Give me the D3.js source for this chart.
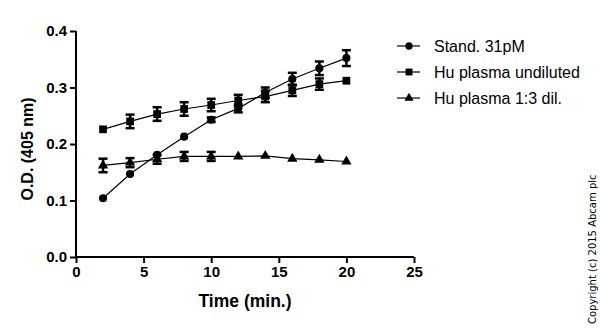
<!DOCTYPE html>
<html><head><meta charset="utf-8">
<script src="https://cdn.jsdelivr.net/npm/d3@7"></script>
<style>body{margin:0;background:#fff}svg{display:block}</style>
</head><body>
<svg id="c" width="600" height="328"></svg>
<script>
const times = [2,4,6,8,10,12,14,16,18,20];
const standValues = [0.104,0.147,0.181,0.213,0.243,0.263,0.291,0.315,0.334,0.352];
const standErrors = [0,0,0,0,0.004,0.007,0.009,0.011,0.012,0.014];
const huUndilValues = [0.226,0.240,0.253,0.262,0.269,0.277,0.284,0.295,0.306,0.312];
const huUndilErrors = [0,0.012,0.012,0.012,0.011,0.010,0.010,0.010,0.010,0];
const huDilValues = [0.162,0.167,0.173,0.178,0.178,0.178,0.179,0.174,0.172,0.169];
const huDilErrors = [0.012,0.008,0.008,0.008,0.008,0,0,0,0,0];
const seriesNames = ["Stand. 31pM","Hu plasma undiluted","Hu plasma 1:3 dil."];
const xTicks = [0,5,10,15,20,25];
const yTicks = [0.0,0.1,0.2,0.3,0.4];

const svg = d3.select("#c");
const x = d3.scaleLinear().domain([0,25]).range([76,414]);
const y = d3.scaleLinear().domain([0,0.4]).range([257,31]);
const font = "Liberation Sans, Arial, sans-serif";

const series = [
  {name:seriesNames[0], v:standValues, e:standErrors, sym:d3.symbolCircle, size:52},
  {name:seriesNames[1], v:huUndilValues, e:huUndilErrors, sym:d3.symbolSquare, size:60},
  {name:seriesNames[2], v:huDilValues, e:huDilErrors, sym:d3.symbolTriangle, size:46}
];

// axes
const xa = svg.append("g").attr("transform","translate(0,257)")
  .call(d3.axisBottom(x).tickValues(xTicks).tickSize(6).tickPadding(3).tickFormat(d3.format("d")));
const ya = svg.append("g").attr("transform","translate(76,0)")
  .call(d3.axisLeft(y).tickValues(yTicks).tickSize(6).tickPadding(3).tickFormat(d3.format(".1f")));
[xa,ya].forEach(a=>{
  a.select(".domain").attr("stroke","#000").attr("stroke-width",2);
  a.selectAll(".tick line").attr("stroke","#000").attr("stroke-width",2);
  a.selectAll("text").attr("font-family",font).attr("font-weight","bold").attr("font-size",15).attr("fill","#000");
});
xa.select(".domain").attr("d","M76,0H414");
ya.select(".domain").attr("d","M0,257V31");

svg.append("text").attr("x",245).attr("y",307).attr("text-anchor","middle")
  .attr("font-family",font).attr("font-weight","bold").attr("font-size",17.5).text("Time (min.)");
svg.append("text").attr("transform","translate(33,149) rotate(-90)").attr("text-anchor","middle")
  .attr("font-family",font).attr("font-weight","bold").attr("font-size",16).text("O.D. (405 nm)");

const line = d3.line().x((d,i)=>x(times[i])).y(d=>y(d));
series.forEach(s=>{
  const g = svg.append("g");
  g.append("path").attr("d",line(s.v)).attr("fill","none").attr("stroke","#000").attr("stroke-width",1.2);
  s.v.forEach((v,i)=>{
    if(s.e[i]>0){
      const cx=x(times[i]), y1=y(v+s.e[i]), y2=y(v-s.e[i]);
      g.append("line").attr("x1",cx).attr("x2",cx).attr("y1",y1).attr("y2",y2).attr("stroke","#000").attr("stroke-width",2.5);
      [y1,y2].forEach(yy=>g.append("line").attr("x1",cx-4.5).attr("x2",cx+4.5).attr("y1",yy).attr("y2",yy).attr("stroke","#000").attr("stroke-width",2.5));
    }
    g.append("path").attr("d",d3.symbol().type(s.sym).size(s.size)())
      .attr("transform",`translate(${x(times[i])},${y(v)})`).attr("fill","#000");
  });
});

// legend
const ly = [46,72,98];
series.forEach((s,i)=>{
  const g = svg.append("g").attr("transform",`translate(0,${ly[i]})`);
  g.append("line").attr("x1",397).attr("x2",420).attr("y1",0).attr("y2",0).attr("stroke","#000").attr("stroke-width",1.2);
  g.append("path").attr("d",d3.symbol().type(s.sym).size(s.size*0.8)()).attr("transform","translate(409,0)").attr("fill","#000");
  g.append("text").attr("x",434).attr("y",5.5).attr("font-family",font).attr("font-size",16).attr("fill","#000").text(s.name);
});

svg.append("text").attr("transform","translate(596,324) rotate(-90)").attr("font-family","DejaVu Sans, sans-serif")
  .attr("font-size",10).attr("fill","#000").text("Copyright (c) 2015 Abcam plc");
</script>
</body></html>
